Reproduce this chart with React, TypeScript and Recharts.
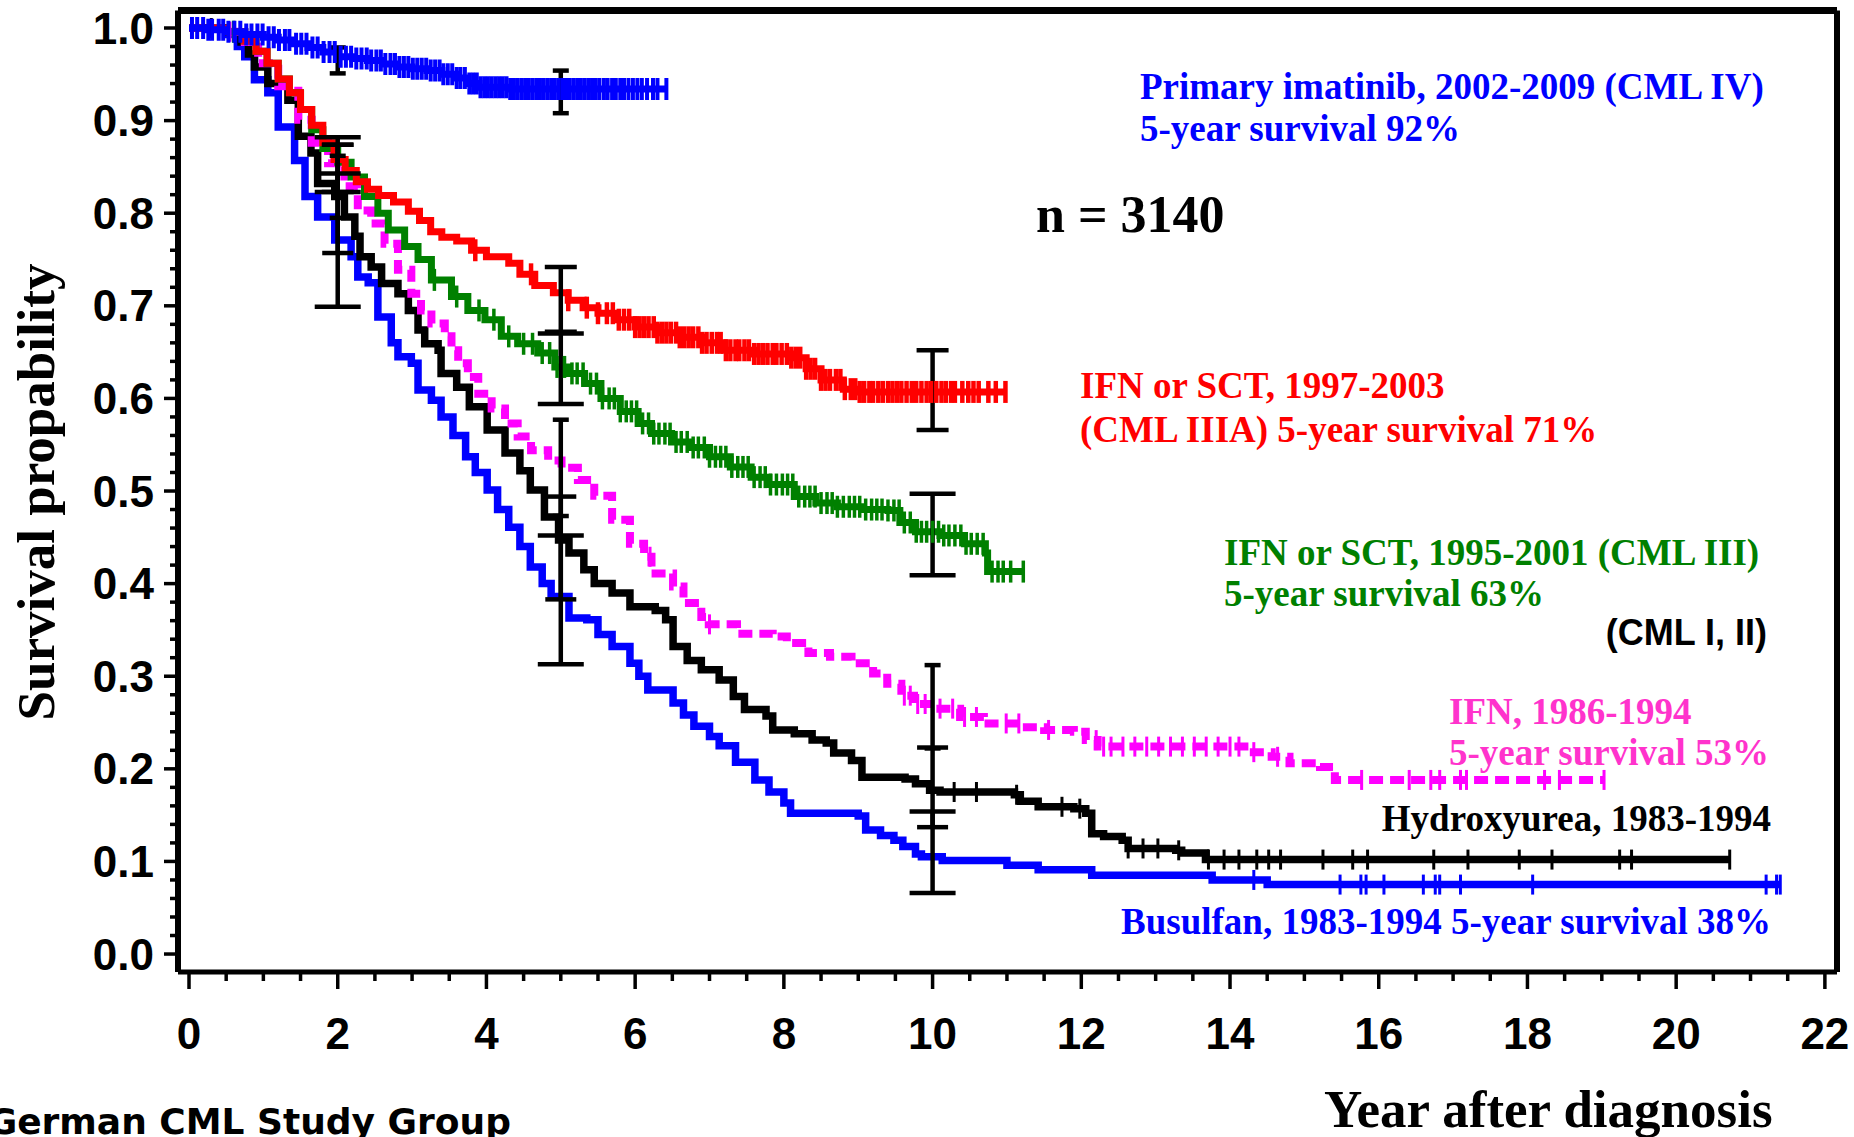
import React from "react";
import { ComposedChart, Line, Scatter, XAxis, YAxis, ReferenceLine, ErrorBar } from "recharts";

type Pt = [number, number];
type CI = [number, number, number];

// Kaplan-Meier step points [year, survival]
const busulfan: Pt[] = [
  [0, 1.0], [0.5, 0.993], [0.65, 0.98], [0.75, 0.969], [0.88, 0.944], [1.06, 0.93], [1.2, 0.893], [1.42, 0.857],
  [1.56, 0.818], [1.73, 0.796], [1.96, 0.771], [2.18, 0.753], [2.27, 0.731], [2.41, 0.725], [2.54, 0.688], [2.72, 0.66],
  [2.81, 0.645], [2.99, 0.638], [3.08, 0.609], [3.26, 0.598], [3.39, 0.58], [3.55, 0.56], [3.72, 0.537], [3.85, 0.52],
  [4.01, 0.501], [4.15, 0.48], [4.3, 0.461], [4.45, 0.44], [4.59, 0.418], [4.75, 0.4], [4.87, 0.386], [5.11, 0.363],
  [5.35, 0.361], [5.5, 0.345], [5.69, 0.332], [5.93, 0.314], [6.05, 0.3], [6.17, 0.285], [6.51, 0.271], [6.65, 0.258],
  [6.79, 0.246], [7.0, 0.235], [7.13, 0.225], [7.35, 0.207], [7.61, 0.188], [7.8, 0.175], [8.0, 0.163], [8.09, 0.152],
  [9.0, 0.149], [9.1, 0.134], [9.3, 0.128], [9.48, 0.123], [9.6, 0.116], [9.77, 0.108], [9.85, 0.105], [10.13, 0.101],
  [11.0, 0.096], [11.42, 0.091], [12.14, 0.085], [13.76, 0.08], [14.5, 0.075], [21.4, 0.075],
];
const busulfanCensor = [14.32, 15.48, 15.76, 15.83, 16.07, 16.6, 16.76, 16.82, 17.1, 18.07, 21.21, 21.35, 21.4];
const busulfanCI: CI[] = [[2, 0.699, 0.843], [5, 0.313, 0.452], [10, 0.066, 0.154]];

const hydroxyurea: Pt[] = [
  [0, 1.0], [0.5, 0.996], [0.7, 0.985], [0.8, 0.972], [0.88, 0.958], [1.06, 0.94], [1.33, 0.922], [1.47, 0.883],
  [1.64, 0.865], [1.73, 0.832], [1.96, 0.818], [2.09, 0.796], [2.23, 0.775], [2.3, 0.753], [2.45, 0.742], [2.59, 0.724],
  [2.81, 0.713], [2.95, 0.695], [3.08, 0.674], [3.17, 0.659], [3.35, 0.652], [3.39, 0.627], [3.6, 0.612], [3.77, 0.591],
  [4.01, 0.566], [4.25, 0.541], [4.45, 0.522], [4.59, 0.501], [4.78, 0.472], [4.97, 0.447], [5.11, 0.433], [5.31, 0.415],
  [5.45, 0.4], [5.69, 0.39], [5.93, 0.375], [6.27, 0.371], [6.41, 0.361], [6.51, 0.332], [6.7, 0.317], [6.89, 0.307],
  [7.13, 0.296], [7.32, 0.278], [7.47, 0.264], [7.76, 0.257], [7.85, 0.242], [8.14, 0.238], [8.38, 0.231], [8.57, 0.228],
  [8.67, 0.217], [8.91, 0.209], [9.05, 0.191], [9.63, 0.189], [9.77, 0.184], [9.96, 0.177], [10.1, 0.175], [11.1, 0.172],
  [11.18, 0.165], [11.42, 0.159], [11.9, 0.157], [12.06, 0.152], [12.14, 0.13], [12.3, 0.127], [12.55, 0.123],
  [12.63, 0.114], [13.27, 0.112], [13.35, 0.109], [13.67, 0.102], [20.72, 0.102],
];
const hydroxyureaCensor = [
  0.3, 10.29, 10.59, 11.13, 11.74, 11.98, 12.63, 12.83, 13.03, 13.31, 13.71, 13.92, 14.12, 14.36, 14.52, 14.68,
  15.25, 15.65, 15.85, 16.74, 17.2, 17.89, 18.33, 19.24, 19.4, 20.72,
];
const hydroxyureaCI: CI[] = [[2, 0.757, 0.874], [5, 0.383, 0.494], [10, 0.137, 0.223]];

const ifn: Pt[] = [
  [0, 1.0], [0.5, 0.996], [0.75, 0.985], [0.93, 0.962], [1.2, 0.937], [1.47, 0.901], [1.65, 0.876], [1.87, 0.854],
  [2.09, 0.829], [2.27, 0.803], [2.45, 0.789], [2.63, 0.767], [2.81, 0.739], [2.99, 0.713], [3.12, 0.695], [3.26, 0.681],
  [3.44, 0.667], [3.53, 0.652], [3.62, 0.638], [3.75, 0.623], [3.89, 0.605], [4.07, 0.589], [4.25, 0.573], [4.42, 0.559],
  [4.6, 0.544], [4.83, 0.533], [5.01, 0.525], [5.23, 0.512], [5.45, 0.495], [5.69, 0.469], [5.93, 0.443], [6.12, 0.429],
  [6.22, 0.411], [6.51, 0.397], [6.65, 0.379], [6.89, 0.364], [6.99, 0.356], [7.37, 0.346], [7.85, 0.343], [8.04, 0.336],
  [8.33, 0.325], [8.62, 0.321], [8.91, 0.314], [9.2, 0.303], [9.39, 0.292], [9.58, 0.279], [9.75, 0.27], [10.05, 0.265],
  [10.37, 0.256], [10.69, 0.249], [11.18, 0.245], [11.5, 0.242], [11.9, 0.24], [12.06, 0.231], [12.22, 0.224],
  [14.16, 0.224], [14.32, 0.218], [14.56, 0.213], [14.8, 0.206], [15.21, 0.202], [15.41, 0.188], [19.03, 0.188],
];
const ifnCensor = [
  0.55, 6.2, 7.0, 9.62, 9.7, 9.8, 9.9, 10.1, 10.27, 10.43, 10.59, 10.99, 11.16, 11.56, 12.2, 12.3, 12.4, 12.56, 12.72,
  12.88, 13.04, 13.2, 13.36, 13.52, 13.68, 13.84, 14.0, 14.12, 14.32, 14.64, 15.77, 16.41, 16.7, 16.82, 17.1, 17.18,
  18.23, 18.43, 19.03,
];
const ifnCI: CI[] = [[2, 0.795, 0.862], [5, 0.473, 0.577], [10, 0.222, 0.312]];

const cml3: Pt[] = [
  [0, 1.0], [0.5, 0.996], [0.75, 0.986], [0.9, 0.975], [1.05, 0.962], [1.2, 0.945], [1.35, 0.93], [1.5, 0.912],
  [1.65, 0.89], [1.8, 0.87], [2.0, 0.855], [2.18, 0.839], [2.36, 0.818], [2.54, 0.8], [2.68, 0.782], [2.9, 0.764],
  [3.08, 0.75], [3.26, 0.728], [3.53, 0.71], [3.75, 0.695], [3.98, 0.685], [4.2, 0.667], [4.42, 0.659], [4.69, 0.649],
  [4.92, 0.634], [5.1, 0.627], [5.32, 0.616], [5.54, 0.6], [5.8, 0.586], [6.04, 0.573], [6.22, 0.562], [6.49, 0.553],
  [6.75, 0.547], [7.0, 0.537], [7.28, 0.526], [7.56, 0.515], [7.8, 0.507], [8.14, 0.494], [8.43, 0.487], [8.72, 0.483],
  [9.05, 0.48], [9.4, 0.479], [9.56, 0.466], [9.77, 0.456], [10.1, 0.452], [10.43, 0.443], [10.71, 0.433],
  [10.74, 0.413], [11.22, 0.413],
];
const cml3Censor = [
  0.6, 3.3, 3.6, 3.9, 4.1, 4.3, 4.5, 4.62, 4.75, 4.85, 4.95, 5.05, 5.15, 5.22, 5.3, 5.4, 5.48, 5.56, 5.65, 5.72, 5.8,
  5.88, 5.95, 6.02, 6.1, 6.18, 6.25, 6.32, 6.4, 6.47, 6.55, 6.62, 6.7, 6.78, 6.85, 6.93, 7.0, 7.08, 7.15, 7.22, 7.3,
  7.38, 7.45, 7.52, 7.6, 7.68, 7.75, 7.82, 7.9, 7.98, 8.05, 8.12, 8.2, 8.28, 8.35, 8.42, 8.5, 8.58, 8.65, 8.72, 8.8,
  8.88, 8.95, 9.02, 9.1, 9.18, 9.25, 9.32, 9.4, 9.48, 9.55, 9.62, 9.7, 9.78, 9.85, 9.92, 10.0, 10.08, 10.15, 10.22,
  10.3, 10.38, 10.45, 10.52, 10.6, 10.68, 10.8, 10.88, 10.95, 11.05, 11.22,
];
const cml3CI: CI[] = [[2, 0.823, 0.882], [5, 0.594, 0.67], [10, 0.409, 0.497]];

const cml3a: Pt[] = [
  [0, 1.0], [0.5, 0.996], [0.75, 0.986], [0.9, 0.975], [1.05, 0.962], [1.2, 0.945], [1.35, 0.93], [1.5, 0.912],
  [1.65, 0.895], [1.8, 0.876], [1.95, 0.858], [2.1, 0.846], [2.25, 0.834], [2.4, 0.826], [2.55, 0.819], [2.75, 0.812],
  [2.95, 0.802], [3.1, 0.792], [3.25, 0.78], [3.4, 0.774], [3.6, 0.77], [3.8, 0.76], [4.0, 0.753], [4.3, 0.746],
  [4.45, 0.734], [4.65, 0.722], [4.9, 0.714], [5.1, 0.706], [5.3, 0.698], [5.5, 0.692], [5.75, 0.685], [6.0, 0.677],
  [6.3, 0.671], [6.6, 0.666], [6.9, 0.66], [7.2, 0.652], [7.6, 0.648], [8.1, 0.644], [8.3, 0.632], [8.5, 0.62],
  [8.8, 0.61], [9.0, 0.607], [10.98, 0.607],
];
const cml3aCensor = [
  3.85, 4.6, 5.1, 5.35, 5.5, 5.62, 5.7, 5.78, 5.85, 5.92, 6.0, 6.06, 6.12, 6.18, 6.25, 6.3, 6.36, 6.42, 6.48, 6.55,
  6.6, 6.66, 6.72, 6.78, 6.85, 6.9, 6.96, 7.03, 7.1, 7.15, 7.22, 7.28, 7.35, 7.4, 7.47, 7.53, 7.6, 7.66, 7.72, 7.78,
  7.85, 7.9, 7.97, 8.04, 8.1, 8.16, 8.22, 8.3, 8.36, 8.42, 8.5, 8.56, 8.62, 8.7, 8.76, 8.82, 8.9, 8.96, 9.02, 9.08,
  9.15, 9.2, 9.27, 9.33, 9.4, 9.46, 9.52, 9.58, 9.65, 9.72, 9.78, 9.85, 9.92, 9.98, 10.05, 10.12, 10.18, 10.25, 10.3,
  10.4, 10.48, 10.55, 10.62, 10.75, 10.85, 10.98,
];
const cml3aCI: CI[] = [[2, 0.823, 0.874], [5, 0.672, 0.742], [10, 0.566, 0.652]];

const imatinib: Pt[] = [
  [0, 1.0], [0.25, 0.998], [0.5, 0.996], [0.75, 0.993], [1.0, 0.99], [1.2, 0.987], [1.4, 0.983], [1.6, 0.979],
  [1.8, 0.974], [2.0, 0.969], [2.2, 0.967], [2.4, 0.965], [2.6, 0.961], [2.8, 0.958], [3.0, 0.956], [3.2, 0.954],
  [3.4, 0.95], [3.6, 0.946], [3.75, 0.94], [3.9, 0.936], [4.3, 0.934], [6.42, 0.934],
];
const imatinibCensor = [
  0.04, 0.11, 0.19, 0.26, 0.31, 0.4, 0.46, 0.53, 0.61, 0.69, 0.77, 0.84, 0.92, 0.99, 1.07, 1.14, 1.21, 1.29, 1.35,
  1.44, 1.51, 1.58, 1.66, 1.73, 1.81, 1.89, 1.96, 2.04, 2.11, 2.18, 2.25, 2.32, 2.39, 2.45, 2.52, 2.58, 2.64, 2.71,
  2.77, 2.83, 2.89, 2.95, 3.01, 3.07, 3.13, 3.19, 3.25, 3.31, 3.37, 3.42, 3.48, 3.54, 3.6, 3.65, 3.71, 3.77, 3.82,
  3.87, 3.92, 3.97, 4.02, 4.07, 4.12, 4.17, 4.22, 4.27, 4.32, 4.37, 4.42, 4.47, 4.52, 4.57, 4.62, 4.67, 4.72, 4.77,
  4.82, 4.87, 4.92, 4.97, 5.02, 5.07, 5.12, 5.17, 5.22, 5.27, 5.32, 5.37, 5.42, 5.47, 5.52, 5.58, 5.63, 5.69, 5.74,
  5.8, 5.85, 5.91, 5.97, 6.03, 6.09, 6.16, 6.24, 6.3, 6.42,
];
const imatinibCI: CI[] = [[2, 0.951, 0.979], [5, 0.908, 0.954]];

const xTicks = [
  0, 0.5, 1, 1.5, 2, 2.5, 3, 3.5, 4, 4.5, 5, 5.5, 6, 6.5, 7, 7.5, 8, 8.5, 9, 9.5, 10, 10.5, 11, 11.5, 12, 12.5, 13,
  13.5, 14, 14.5, 15, 15.5, 16, 16.5, 17, 17.5, 18, 18.5, 19, 19.5, 20, 20.5, 21, 21.5, 22,
];
const xLabels = [0, 2, 4, 6, 8, 10, 12, 14, 16, 18, 20, 22];
const yTicks = [
  0, 0.02, 0.04, 0.06, 0.08, 0.1, 0.12, 0.14, 0.16, 0.18, 0.2, 0.22, 0.24, 0.26, 0.28, 0.3, 0.32, 0.34, 0.36, 0.38,
  0.4, 0.42, 0.44, 0.46, 0.48, 0.5, 0.52, 0.54, 0.56, 0.58, 0.6, 0.62, 0.64, 0.66, 0.68, 0.7, 0.72, 0.74, 0.76, 0.78,
  0.8, 0.82, 0.84, 0.86, 0.88, 0.9, 0.92, 0.94, 0.96, 0.98, 1.0,
];
const yLabels = [0, 0.1, 0.2, 0.3, 0.4, 0.5, 0.6, 0.7, 0.8, 0.9, 1.0];

const X_DOMAIN: [number, number] = [-0.148, 22.163];
const Y_DOMAIN: [number, number] = [-0.0194, 1.0189];
const PLOT_LEFT = 178;
const PLOT_BOTTOM = 972;

const BLUE = "#0000FF";
const RED = "#FF0000";
const GREEN = "#008000";
const MAGENTA = "#FF00FF";

const series = [
  { id: "busulfan", pts: busulfan, censor: busulfanCensor, ci: busulfanCI, color: BLUE, width: 7.5, cap: 23, tick: 20, tw: 3 },
  { id: "hu", pts: hydroxyurea, censor: hydroxyureaCensor, ci: hydroxyureaCI, color: "#000", width: 7.5, cap: 15.5, tick: 20, tw: 3 },
  { id: "ifn", pts: ifn, censor: ifnCensor, ci: ifnCI, color: MAGENTA, width: 8, cap: 8, tick: 20, tw: 3, dash: "14 7" },
  { id: "cml3", pts: cml3, censor: cml3Censor, ci: cml3CI, color: GREEN, width: 7, cap: 23, tick: 22, tw: 3.5 },
  { id: "cml3a", pts: cml3a, censor: cml3aCensor, ci: cml3aCI, color: RED, width: 7, cap: 16, tick: 22, tw: 4.5 },
  { id: "imatinib", pts: imatinib, censor: imatinibCensor, ci: imatinibCI, color: BLUE, width: 7, cap: 8, tick: 22, tw: 4 },
];

function survivalAt(pts: Pt[], t: number) {
  let s = pts[0][1];
  for (const [pt, ps] of pts) {
    if (pt <= t + 1e-9) s = ps;
    else break;
  }
  return s;
}

const XTick = (props: any) => {
  const { x, payload } = props;
  const major = xLabels.includes(payload.value);
  return (
    <g>
      <line x1={x} x2={x} y1={PLOT_BOTTOM} y2={PLOT_BOTTOM + (major ? 17 : 9)} stroke="#000" strokeWidth={3.5} />
      {major && (
        <text x={x} y={1049} textAnchor="middle" fontFamily="Liberation Sans, Arial, sans-serif" fontWeight="bold" fontSize={44} fill="#000">
          {payload.value}
        </text>
      )}
    </g>
  );
};

const YTick = (props: any) => {
  const { y, payload } = props;
  const major = yLabels.some((v) => Math.abs(v - payload.value) < 1e-6);
  return (
    <g>
      <line x1={PLOT_LEFT} x2={PLOT_LEFT - (major ? 14 : 8)} y1={y} y2={y} stroke="#000" strokeWidth={3.5} />
      {major && (
        <text x={154} y={y + 15.5} textAnchor="end" fontFamily="Liberation Sans, Arial, sans-serif" fontWeight="bold" fontSize={44} fill="#000">
          {payload.value.toFixed(1)}
        </text>
      )}
    </g>
  );
};

const serif = "Liberation Serif, Times New Roman, serif";

export default function App() {
  return (
    <div style={{ position: "absolute", left: 0, top: 0, width: 1854, height: 1137, background: "#fff" }}>
      <ComposedChart width={1854} height={1137} margin={{ top: 10.5, right: 17, bottom: 105, left: 118 }}>
        <XAxis dataKey="t" type="number" domain={X_DOMAIN} allowDataOverflow ticks={xTicks} interval={0}
          height={60} tickLine={false} axisLine={{ stroke: "#000", strokeWidth: 5 }} tick={<XTick />} />
        <YAxis dataKey="s" type="number" domain={Y_DOMAIN} allowDataOverflow ticks={yTicks} interval={0}
          width={60} tickLine={false} axisLine={{ stroke: "#000", strokeWidth: 6 }} tick={<YTick />} />
        <ReferenceLine y={Y_DOMAIN[1]} stroke="#000" strokeWidth={7} />
        <ReferenceLine x={X_DOMAIN[1]} stroke="#000" strokeWidth={6} />
        {series.map((c) => (
          <Line key={c.id + "-line"} data={c.pts.map(([t, s]) => ({ t, s }))} dataKey="s" type="stepAfter"
            stroke={c.color} strokeWidth={c.width} strokeDasharray={c.dash} dot={false}
            activeDot={false} isAnimationActive={false} />
        ))}
        {series.map((c) => (
          <Scatter key={c.id + "-censor"} data={c.censor.map((t) => ({ t, s: survivalAt(c.pts, t) }))} dataKey="s"
            isAnimationActive={false}
            shape={(p: any) => (
              <line x1={p.cx} x2={p.cx} y1={p.cy - c.tick / 2} y2={p.cy + c.tick / 2} stroke={c.color} strokeWidth={c.tw} />
            )} />
        ))}
        {series.map((c) => (
          <Scatter key={c.id + "-ci"} data={c.ci.map(([t, lo, hi]) => ({ t, s: (lo + hi) / 2, e: (hi - lo) / 2 }))}
            dataKey="s" isAnimationActive={false} shape={() => <g />}>
            <ErrorBar dataKey="e" direction="y" width={c.cap} stroke="#000" strokeWidth={4.5} />
          </Scatter>
        ))}
      </ComposedChart>
      <svg width={1854} height={1137} style={{ position: "absolute", left: 0, top: 0, pointerEvents: "none" }}>
        <g fontFamily={serif} fontWeight="bold" fontSize={37}>
          <text x={1140} y={99} fill={BLUE}>Primary imatinib, 2002-2009 (CML IV)</text>
          <text x={1140} y={141} fill={BLUE}>5-year survival 92%</text>
          <text x={1036} y={232} fill="#000" fontSize={52}>n = 3140</text>
          <text x={1080} y={398} fill={RED}>IFN or SCT, 1997-2003</text>
          <text x={1080} y={442} fill={RED}>(CML IIIA) 5-year survival 71%</text>
          <text x={1224} y={565} fill={GREEN}>IFN or SCT, 1995-2001 (CML III)</text>
          <text x={1224} y={606} fill={GREEN}>5-year survival 63%</text>
          <text x={1449} y={724} fill="#FF33CC">IFN, 1986-1994</text>
          <text x={1449} y={765} fill="#FF33CC">5-year survival 53%</text>
          <text x={1771} y={831} fill="#000" textAnchor="end">Hydroxyurea, 1983-1994</text>
          <text x={1121} y={934} fill={BLUE}>Busulfan, 1983-1994 5-year survival 38%</text>
          <text x={1324} y={1127} fill="#000" fontSize={53}>Year after diagnosis</text>
          <text x={0} y={0} fill="#000" fontSize={53} textAnchor="middle" transform="translate(54 492) rotate(-90)">
            Survival propability
          </text>
        </g>
        <text x={1767} y={645} textAnchor="end" fontFamily="Liberation Sans, Arial, sans-serif" fontWeight="bold" fontSize={36} fill="#000">
          (CML I, II)
        </text>
        <text x={511} y={1134} textAnchor="end" fontFamily="DejaVu Sans, Verdana, sans-serif" fontWeight="bold" fontSize={36} fill="#000">
          German CML Study Group
        </text>
      </svg>
    </div>
  );
}
